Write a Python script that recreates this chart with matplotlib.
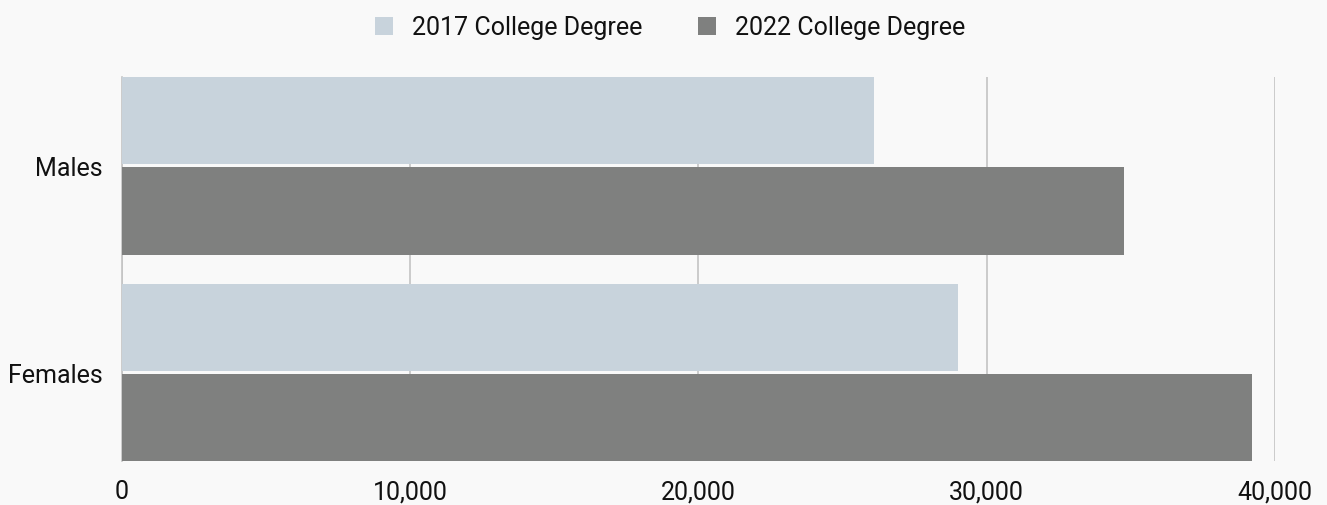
import numpy as np
import matplotlib
import matplotlib.pyplot as plt
from matplotlib.patches import Patch
from matplotlib.ticker import FuncFormatter

matplotlib.use("Agg")

# data
groups = ["Males", "Females"]
series_names = ["2017 College Degree", "2022 College Degree"]
values_2017 = [26100, 29000]
values_2022 = [34750, 39200]
x_ticks = [0, 10000, 20000, 30000, 40000]

colors = ["#c8d3dc", "#7f807f"]
bg = "#f9f9f9"

plt.rcParams["font.family"] = ["Roboto", "DejaVu Sans"]

fig = plt.figure(figsize=(13.27, 5.06), dpi=100, facecolor=bg)
ax = fig.add_axes([0.0918, 0.0864, 0.869, 0.7594], facecolor=bg)

# pair layout: two bars per group, tiny gap between them
bar_h = 0.423
inner_gap = 0.013
pos = np.arange(len(groups))
off = (bar_h + inner_gap) / 2

ax.barh(pos - off, values_2017, height=bar_h, color=colors[0], zorder=3)
ax.barh(pos + off, values_2022, height=bar_h, color=colors[1], zorder=3)

half = bar_h + inner_gap / 2
ax.set_ylim(len(groups) - 1 + half, -half)
ax.set_xlim(0, 40000)

ax.set_yticks(pos)
ax.set_yticklabels(groups)
ax.set_xticks(x_ticks)
ax.xaxis.set_major_formatter(FuncFormatter(lambda v, p: f"{int(v):,}"))
ax.tick_params(axis="both", length=0, labelsize=18, colors="#111111")
ax.tick_params(axis="y", pad=14)
ax.tick_params(axis="x", pad=13)

ax.grid(axis="x", color="#c4c4c4", linewidth=1.2, zorder=0)
for s in ["top", "right", "bottom"]:
    ax.spines[s].set_visible(False)
ax.spines["left"].set_color("#c4c4c4")
ax.spines["left"].set_linewidth(1.2)

handles = [Patch(facecolor=c, edgecolor="none") for c in colors]
fig.legend(
    handles,
    series_names,
    loc="upper center",
    bbox_to_anchor=(0.505, 1.012),
    ncol=2,
    frameon=False,
    fontsize=18,
    handlelength=0.72,
    handleheight=0.72,
    handletextpad=0.76,
    columnspacing=2.2,
    labelcolor="#111111",
)

plt.savefig("out.png", dpi=100, facecolor=bg)
